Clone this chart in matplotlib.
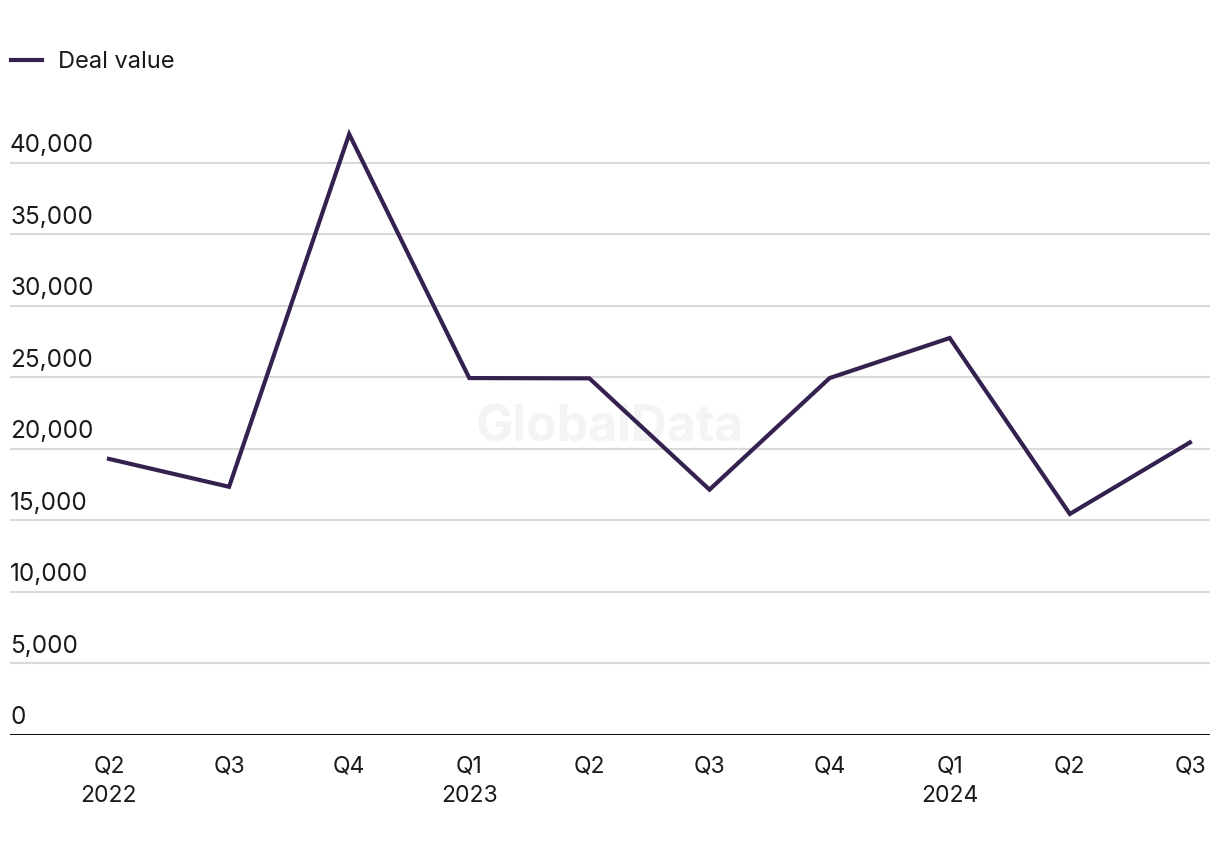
import matplotlib
matplotlib.use('Agg')
import matplotlib.pyplot as plt
import matplotlib.transforms as mtransforms

# data
quarters = ['Q2\n2022', 'Q3', 'Q4', 'Q1\n2023', 'Q2', 'Q3', 'Q4', 'Q1\n2024', 'Q2', 'Q3']
deal_value = [19300, 17350, 42000, 24950, 24930, 17150, 24950, 27750, 15450, 20450]
y_ticks = [0, 5000, 10000, 15000, 20000, 25000, 30000, 35000, 40000]

line_color = '#35214f'
text_color = '#1a1a1a'
grid_color = '#d9d9d9'

plt.rcParams['font.family'] = ['Inter', 'DejaVu Sans']

fig = plt.figure(figsize=(12.2, 8.56), dpi=100)
# axes box in pixels: left 10, right 1210, bottom 735 (from top), top 127
W, H = 1220, 856
ax = fig.add_axes([10 / W, (H - 735) / H, 1200 / W, (735 - 127) / H])

x = list(range(len(quarters)))
line, = ax.plot(x, deal_value, color=line_color, linewidth=3, clip_on=False,
                solid_joinstyle='miter', label='Deal value')

ax.set_xlim(-0.824, 9.167)
ax.set_ylim(0, 42500)

for v in y_ticks[1:]:
    ax.axhline(v, color=grid_color, linewidth=1.5, zorder=0)
ax.axhline(0, color='#111122', linewidth=2.2, zorder=1)

for s in ax.spines.values():
    s.set_visible(False)

ax.set_yticks([])
ax.set_xticks(x)
ax.set_xticklabels(quarters, fontsize=16.5, color=text_color, linespacing=1.45)
ax.tick_params(axis='x', length=0, pad=15)

# y labels sit above their gridlines, left aligned
trans = mtransforms.blended_transform_factory(ax.transAxes, ax.transData)
for v in y_ticks:
    ax.text(0, v + 400, f'{v:,}', transform=trans, ha='left', va='bottom',
            fontsize=17.5, color=text_color)

# watermark
ax.text(0.5, 0.505, 'GlobalData', transform=ax.transAxes, ha='center',
        va='center', fontsize=36, fontweight='bold', color='#f4f4f4', zorder=0)

fig.legend(handles=[line], loc='center left', bbox_to_anchor=(-10 / W, 1 - 62 / H),
           frameon=False, fontsize=17, handlelength=1.3, handletextpad=0.7,
           labelcolor=text_color)

fig.savefig('out.png', dpi=100, facecolor='white')
